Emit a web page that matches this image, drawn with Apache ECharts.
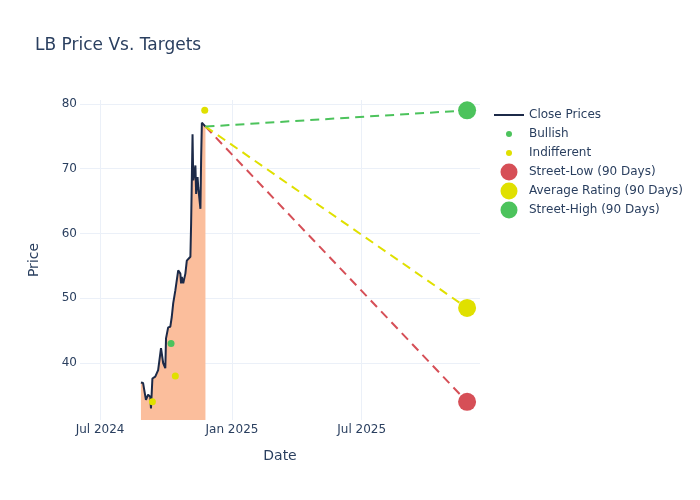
<!DOCTYPE html>
<html>
<head>
<meta charset="utf-8">
<script src="https://cdn.jsdelivr.net/npm/echarts@6/dist/echarts.min.js"></script>
<style>html,body{margin:0;padding:0;background:#fff}#c{width:700px;height:500px}</style>
</head>
<body>
<div id="c"></div>
<script>
// ---- data ----
const closeDates = ['2024-08-27','2024-08-30','2024-09-03','2024-09-06','2024-09-09','2024-09-10','2024-09-12','2024-09-16','2024-09-18','2024-09-20','2024-09-24','2024-09-27','2024-09-30','2024-10-01','2024-10-03','2024-10-04','2024-10-07','2024-10-09','2024-10-11','2024-10-14','2024-10-16','2024-10-18','2024-10-21','2024-10-22','2024-10-23','2024-10-25','2024-10-28','2024-10-30','2024-11-01','2024-11-04','2024-11-05','2024-11-07','2024-11-08','2024-11-11','2024-11-12','2024-11-14','2024-11-15','2024-11-18','2024-11-19','2024-11-20','2024-11-22','2024-11-25'];
const closePrices = [37.0,36.9,34.3,35.1,34.8,33.0,37.6,37.9,38.4,38.9,42.3,40.0,39.2,43.8,44.1,45.5,45.6,47.1,49.2,51.2,51.5,54.3,53.8,52.3,53.3,52.3,53.8,55.8,56.1,56.4,61.5,75.3,68.2,70.5,66.1,68.7,67.1,63.8,71.7,77.1,76.9,76.5];
const bullishDates = ['2024-10-08'];
const bullishTargets = [43];
const indifferentDates = ['2024-09-12','2024-10-14','2024-11-24'];
const indifferentTargets = [34,38,79];
const targetDate = '2025-11-25';
const streetLow = 34;
const averageRating = 48.5;
const streetHigh = 79;
const xTickLabels = ['Jul 2024','Jan 2025','Jul 2025'];

const txt = '#2a3f5f';
const font = 'DejaVu Sans';
const grid = '#EBF0F8';
const cRed = '#D64F57', cYel = '#E0E000', cGrn = '#4CC35C';

const closeData = closeDates.map((d,i)=>[d, closePrices[i]]);
const lastDate = closeDates[closeDates.length-1];
const lastPrice = closePrices[closePrices.length-1];
const monthNames = ['Jan','Feb','Mar','Apr','May','Jun','Jul','Aug','Sep','Oct','Nov','Dec'];

// icon centred at x=509, text starting at x=529
function legendItem(name, top, h, icon) {
  const w = icon === 'rect' ? 30 : h;
  const left = icon === 'rect' ? 494 : 509 - h/2;
  const textStart = left + w + 5;
  return {
    data: [{name: name, icon: icon}],
    left: left, top: top + 1 - Math.max(h,16)/2, padding: 0,
    itemWidth: w, itemHeight: h, selectedMode: false,
    textStyle: {color: txt, fontFamily: font, fontSize: 12, lineHeight: 16, padding: [0,0,0,529 - textStart]}
  };
}

const chart = echarts.init(document.getElementById('c'), null, {renderer: 'canvas'});
chart.setOption({
  animation: false,
  backgroundColor: '#fff',
  title: {
    text: 'LB Price Vs. Targets', left: 35, top: 37, padding: 0,
    textStyle: {color: txt, fontFamily: font, fontSize: 17, fontWeight: 'normal'}
  },
  legend: [
    legendItem('Close Prices', 114, 2, 'rect'),
    legendItem('Bullish', 133, 6, 'circle'),
    legendItem('Indifferent', 152, 6, 'circle'),
    legendItem('Street-Low (90 Days)', 171, 17, 'circle'),
    legendItem('Average Rating (90 Days)', 190, 17, 'circle'),
    legendItem('Street-High (90 Days)', 209, 17, 'circle')
  ],
  grid: {left: 80, right: 220, top: 100, bottom: 80, containLabel: false},
  xAxis: {
    type: 'time',
    min: '2024-06-03', max: '2025-12-13',
    minInterval: 182*86400000, maxInterval: 182*86400000,
    name: 'Date', nameLocation: 'middle', nameGap: 29,
    nameTextStyle: {color: txt, fontFamily: font, fontSize: 14},
    axisLine: {show: false}, axisTick: {show: false},
    axisLabel: {
      color: txt, fontFamily: font, fontSize: 12, margin: 4,
      formatter: function(v){ const d = new Date(v); const s = monthNames[d.getMonth()] + ' ' + d.getFullYear(); return xTickLabels.indexOf(s) >= 0 ? s : ''; }
    },
    splitLine: {show: true, showMinLine: false, showMaxLine: false, lineStyle: {color: grid, width: 1}}
  },
  yAxis: {
    type: 'value', min: 31.2, max: 80.6,
    name: 'Price', nameLocation: 'middle', nameGap: 39, nameRotate: 90,
    nameTextStyle: {color: txt, fontFamily: font, fontSize: 14},
    axisLine: {show: false}, axisTick: {show: false},
    axisLabel: {color: txt, fontFamily: font, fontSize: 12, margin: 3, showMinLabel: false, showMaxLabel: false},
    splitLine: {show: true, showMinLine: false, showMaxLine: false, lineStyle: {color: grid, width: 1}}
  },
  series: [
    {
      name: 'Close Prices', type: 'line', data: closeData, showSymbol: false,
      lineStyle: {color: '#1c2a48', width: 2}, itemStyle: {color: '#1c2a48'},
      areaStyle: {color: '#FBBE9C', opacity: 1, origin: 'start'}, z: 2
    },
    {
      name: 'Street-Low line', type: 'line', data: [[lastDate, lastPrice],[targetDate, streetLow]],
      showSymbol: false, lineStyle: {color: cRed, width: 2, type: [9,6]}, z: 3
    },
    {
      name: 'Average line', type: 'line', data: [[lastDate, lastPrice],[targetDate, averageRating]],
      showSymbol: false, lineStyle: {color: cYel, width: 2, type: [9,6]}, z: 3
    },
    {
      name: 'Street-High line', type: 'line', data: [[lastDate, lastPrice],[targetDate, streetHigh]],
      showSymbol: false, lineStyle: {color: cGrn, width: 2, type: [9,6]}, z: 3
    },
    {
      name: 'Bullish', type: 'scatter', data: bullishDates.map((d,i)=>[d, bullishTargets[i]]),
      symbolSize: 7, itemStyle: {color: cGrn, opacity: 1}, z: 4
    },
    {
      name: 'Indifferent', type: 'scatter', data: indifferentDates.map((d,i)=>[d, indifferentTargets[i]]),
      symbolSize: 7, itemStyle: {color: cYel, opacity: 1}, z: 4
    },
    {
      name: 'Street-Low (90 Days)', type: 'scatter', data: [[targetDate, streetLow]],
      symbolSize: 18, itemStyle: {color: cRed, opacity: 1}, z: 5
    },
    {
      name: 'Average Rating (90 Days)', type: 'scatter', data: [[targetDate, averageRating]],
      symbolSize: 18, itemStyle: {color: cYel, opacity: 1}, z: 5
    },
    {
      name: 'Street-High (90 Days)', type: 'scatter', data: [[targetDate, streetHigh]],
      symbolSize: 18, itemStyle: {color: cGrn, opacity: 1}, z: 5
    }
  ]
});
</script>
</body>
</html>
